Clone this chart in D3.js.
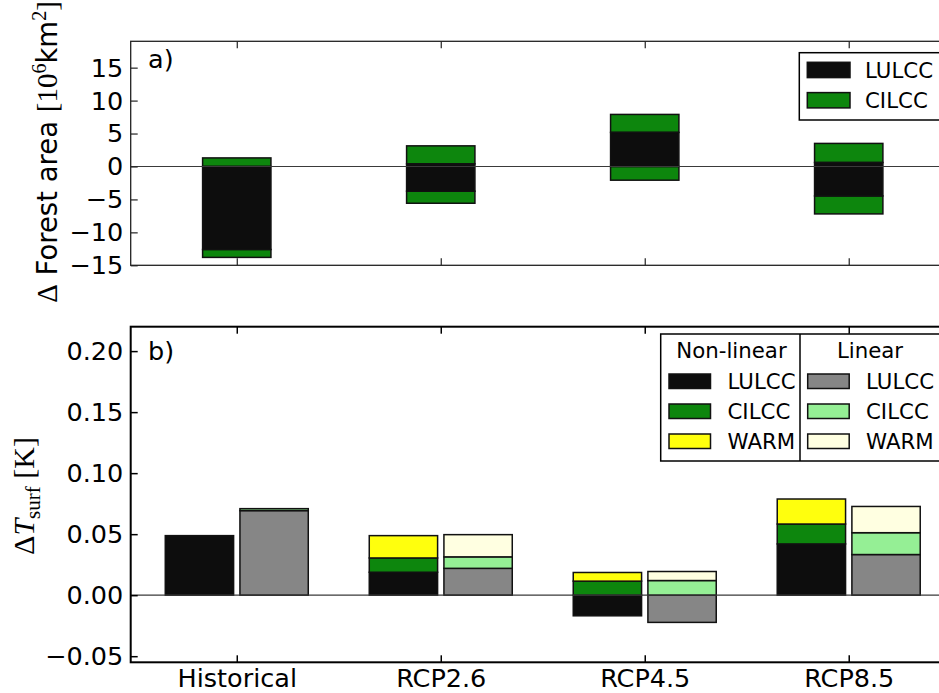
<!DOCTYPE html>
<html>
<head>
<meta charset="utf-8">
<script src="https://cdn.jsdelivr.net/npm/d3@7"></script>
<style>
  html, body { margin: 0; padding: 0; background: #fff; }
  svg { display: block; }
  text { font-family: "DejaVu Sans", sans-serif; fill: #000; }
</style>
</head>
<body>
<svg id="chart" width="939" height="693"></svg>
<script>
// Scenario categories shared by both panels
const categories = ["Historical", "RCP2.6", "RCP4.5", "RCP8.5"];

// Panel a): change in forest area [10^6 km^2]
const lulccGain = [0.0, 0.4, 5.17, 0.6];
const lulccLoss = [-12.6, -3.75, 0.0, -4.47];
const cilccGain = [1.3, 2.73, 2.73, 2.9];
const cilccLoss = [-1.2, -1.83, -2.08, -2.73];
const forestTicks = [-15, -10, -5, 0, 5, 10, 15];

// Panel b): change in surface temperature [K]
const nlLulcc = [0.0488, 0.0188, -0.0169, 0.0420];
const nlCilcc = [0.0, 0.0117, 0.0115, 0.0163];
const nlWarm  = [0.0, 0.0183, 0.0071, 0.0205];
const linLulcc = [0.0693, 0.0220, -0.0223, 0.0333];
const linCilcc = [0.0016, 0.0094, 0.0120, 0.0179];
const linWarm  = [0.0, 0.0182, 0.0074, 0.0215];
const tempTicks = [-0.05, 0.00, 0.05, 0.10, 0.15, 0.20];

const legendA = ["LULCC", "CILCC"];
const legendB = ["LULCC", "CILCC", "WARM"];

const C = {
  black: "#0d0d0d", green: "#0d860d", yellow: "#ffff0d",
  grey: "#868686", lightgreen: "#95ef95", lightyellow: "#ffffe1"
};
const edge = "#111";

const svg = d3.select("#chart");
const X0 = 130.7, X1 = 954.8;
const x = d3.scaleLinear().domain([-0.52, 3.52]).range([X0, X1]);

// ---------- panel a ----------
const aTop = 41.3, aBot = 265.3;
const ya = d3.scaleLinear().domain([-15, 19]).range([aBot, aTop]);
const gA = svg.append("g");
const bw = 0.335;

categories.forEach((c, i) => {
  const x0 = x(i - bw / 2), w = x(i + bw / 2) - x(i - bw / 2);
  const segs = [
    [lulccGain[i], lulccGain[i] + cilccGain[i], C.green],
    [lulccLoss[i] + cilccLoss[i], lulccLoss[i], C.green],
    [lulccLoss[i], lulccGain[i], C.black]
  ];
  segs.forEach(([lo, hi, col]) => {
    gA.append("rect")
      .attr("x", x0).attr("width", w)
      .attr("y", ya(hi)).attr("height", ya(lo) - ya(hi))
      .attr("fill", col).attr("stroke", edge).attr("stroke-width", 1.5);
  });
});
gA.append("line").attr("x1", X0).attr("x2", X1)
  .attr("y1", ya(0)).attr("y2", ya(0))
  .attr("stroke", "#3a3a3a").attr("stroke-width", 1.2);

function styleAxis(g, col, sw) {
  g.select(".domain").remove();
  g.selectAll(".tick line").attr("stroke", col).attr("stroke-width", sw);
  g.selectAll(".tick text").style("font-family", "DejaVu Sans").style("font-size", "25.5px").attr("fill", "#000");
}

const axLa = gA.append("g").attr("transform", `translate(${X0},0)`)
  .call(d3.axisLeft(ya).tickValues(forestTicks).tickSize(-7).tickPadding(7.5).tickFormat(d3.format("d")));
styleAxis(axLa, "#222", 1.2);
axLa.selectAll(".tick text").attr("dy", "0.33em");
const axRa = gA.append("g").attr("transform", `translate(${X1},0)`)
  .call(d3.axisRight(ya).tickValues(forestTicks).tickSize(-7).tickFormat(""));
styleAxis(axRa, "#222", 1.2);
const axBa = gA.append("g").attr("transform", `translate(0,${aBot})`)
  .call(d3.axisBottom(x).tickValues([0, 1, 2, 3]).tickSize(-7).tickFormat(""));
styleAxis(axBa, "#222", 1.2);
const axTa = gA.append("g").attr("transform", `translate(0,${aTop})`)
  .call(d3.axisTop(x).tickValues([0, 1, 2, 3]).tickSize(-7).tickFormat(""));
styleAxis(axTa, "#222", 1.2);
gA.append("rect").attr("x", X0).attr("y", aTop).attr("width", X1 - X0).attr("height", aBot - aTop)
  .attr("fill", "none").attr("stroke", "#222").attr("stroke-width", 1.3);

gA.append("text").attr("x", 148).attr("y", 68).style("font-size", "25.5px").text("a)");

// legend a
const lgA = gA.append("g");
lgA.append("rect").attr("x", 799.3).attr("y", 52.7).attr("width", 180).attr("height", 67.3)
  .attr("fill", "#fff").attr("stroke", "#000").attr("stroke-width", 1.5);
legendA.forEach((name, k) => {
  const yy = 62.3 + k * 30.3;
  lgA.append("rect").attr("x", 807.3).attr("y", yy).attr("width", 42.7).attr("height", 15.3)
    .attr("fill", k === 0 ? C.black : C.green).attr("stroke", edge).attr("stroke-width", 1.5);
  lgA.append("text").attr("x", 865).attr("y", yy + 15.2).style("font-size", "21.3px").text(name);
});

// y label a
const labA = gA.append("text")
  .attr("transform", "translate(57,152) rotate(-90)")
  .attr("text-anchor", "middle").style("font-size", "27.5px");
const serif = "Liberation Serif";
labA.append("tspan").style("font-family", serif).style("font-size", "29px").text("Δ");
labA.append("tspan").text(" Forest area ");
labA.append("tspan").style("font-family", serif).style("font-size", "29px").text("[10");
labA.append("tspan").style("font-family", serif).style("font-size", "20px").attr("dy", -11).text("6");
labA.append("tspan").attr("dy", 11).text("km");
labA.append("tspan").style("font-family", serif).style("font-size", "20px").attr("dy", -11).text("2");
labA.append("tspan").style("font-family", serif).style("font-size", "29px").attr("dy", 11).text("]");

// ---------- panel b ----------
const bTop = 326.7, bBot = 662.3;
const yb = d3.scaleLinear().domain([-0.055, 0.22]).range([bBot, bTop]);
const gB = svg.append("g");
const groups = [
  { off: -0.183, series: [[nlLulcc, C.black], [nlCilcc, C.green], [nlWarm, C.yellow]] },
  { off: 0.183, series: [[linLulcc, C.grey], [linCilcc, C.lightgreen], [linWarm, C.lightyellow]] }
];
categories.forEach((c, i) => {
  groups.forEach(gr => {
    let pos = 0, neg = 0;
    const cx = i + gr.off;
    const x0 = x(cx - bw / 2), w = x(cx + bw / 2) - x(cx - bw / 2);
    gr.series.forEach(([vals, col]) => {
      const v = vals[i];
      if (v === 0) return;
      let lo, hi;
      if (v > 0) { lo = pos; hi = pos + v; pos = hi; }
      else { hi = neg; lo = neg + v; neg = lo; }
      gB.append("rect")
        .attr("x", x0).attr("width", w)
        .attr("y", yb(hi)).attr("height", yb(lo) - yb(hi))
        .attr("fill", col).attr("stroke", edge).attr("stroke-width", 1.5);
    });
  });
});
gB.append("line").attr("x1", X0).attr("x2", X1)
  .attr("y1", yb(0)).attr("y2", yb(0))
  .attr("stroke", "#3a3a3a").attr("stroke-width", 1.2);

const axLb = gB.append("g").attr("transform", `translate(${X0},0)`)
  .call(d3.axisLeft(yb).tickValues(tempTicks).tickSize(-7).tickPadding(7.5).tickFormat(d3.format(".2f")));
styleAxis(axLb, "#000", 1.5);
axLb.selectAll(".tick text").attr("dy", "0.33em");
const axRb = gB.append("g").attr("transform", `translate(${X1},0)`)
  .call(d3.axisRight(yb).tickValues(tempTicks).tickSize(-7).tickFormat(""));
styleAxis(axRb, "#000", 1.5);
const axBb = gB.append("g").attr("transform", `translate(0,${bBot})`)
  .call(d3.axisBottom(x).tickValues([0, 1, 2, 3]).tickSize(-7).tickFormat((d) => categories[d]));
styleAxis(axBb, "#000", 1.5);
axBb.selectAll(".tick text").attr("y", 25.2).attr("dy", null);
const axTb = gB.append("g").attr("transform", `translate(0,${bTop})`)
  .call(d3.axisTop(x).tickValues([0, 1, 2, 3]).tickSize(-7).tickFormat(""));
styleAxis(axTb, "#000", 1.5);
gB.append("rect").attr("x", X0).attr("y", bTop).attr("width", X1 - X0).attr("height", bBot - bTop)
  .attr("fill", "none").attr("stroke", "#000").attr("stroke-width", 2);

gB.append("text").attr("x", 148).attr("y", 360).style("font-size", "25.5px").text("b)");

// legend b: two columns, non-linear and linear
const lgB = gB.append("g");
lgB.append("rect").attr("x", 660.7).attr("y", 334).attr("width", 320).attr("height", 127)
  .attr("fill", "#fff").attr("stroke", "#000").attr("stroke-width", 1.5);
lgB.append("line").attr("x1", 800).attr("x2", 800).attr("y1", 334).attr("y2", 461)
  .attr("stroke", "#000").attr("stroke-width", 1.5);
lgB.append("text").attr("x", 731.5).attr("y", 358).attr("text-anchor", "middle").style("font-size", "21.3px").text("Non-linear");
lgB.append("text").attr("x", 870).attr("y", 358).attr("text-anchor", "middle").style("font-size", "21.3px").text("Linear");
const colsB = [
  { hx: 669, tx: 727.5, fills: [C.black, C.green, C.yellow] },
  { hx: 807.7, tx: 866, fills: [C.grey, C.lightgreen, C.lightyellow] }
];
colsB.forEach(col => {
  legendB.forEach((name, k) => {
    const yy = 374 + k * 30;
    lgB.append("rect").attr("x", col.hx).attr("y", yy).attr("width", 41.5).attr("height", 14.5)
      .attr("fill", col.fills[k]).attr("stroke", edge).attr("stroke-width", 1.5);
    lgB.append("text").attr("x", col.tx).attr("y", yy + 14.7).style("font-size", "21.3px").text(name);
  });
});

// y label b
const labB = gB.append("text")
  .attr("transform", "translate(34,496) rotate(-90)")
  .attr("text-anchor", "middle").style("font-size", "30px").style("font-family", serif);
labB.append("tspan").text("Δ");
labB.append("tspan").style("font-style", "italic").text("T");
labB.append("tspan").style("font-size", "21px").attr("dy", 6).text("surf");
labB.append("tspan").attr("dy", -6).text(" [K]");
</script>
</body>
</html>
